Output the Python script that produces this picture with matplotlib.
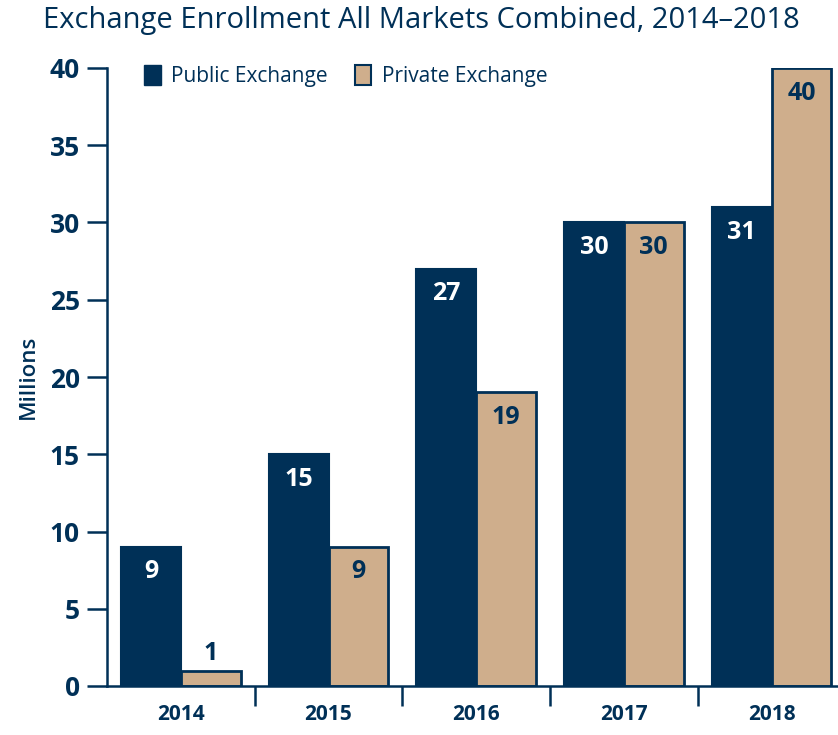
import numpy as np
import matplotlib.pyplot as plt
from matplotlib.patches import Patch

plt.rcParams['font.family'] = ['Open Sans', 'DejaVu Sans']

years = ["2014", "2015", "2016", "2017", "2018"]
public = [9, 15, 27, 30, 31]
private = [1, 9, 19, 30, 40]

navy = "#003057"
tan = "#CFAE8C"

fig = plt.figure(figsize=(8.38, 7.35), dpi=100)
ax = fig.add_axes([107 / 838, 49 / 735, 731 / 838, 618 / 735])

x = np.arange(len(years))
w = 0.405
b1 = ax.bar(x - w / 2, public, w, color=navy, edgecolor=navy, linewidth=1.5, label="Public Exchange")
b2 = ax.bar(x + w / 2, private, w, color=tan, edgecolor=navy, linewidth=2, label="Private Exchange")

for bars, vals, col in [(b1, public, "white"), (b2, private, navy)]:
    for r, v in zip(bars, vals):
        cx = r.get_x() + r.get_width() / 2
        if v < 3:
            ax.annotate(str(v), (cx, v), xytext=(0, 3), textcoords="offset points",
                        ha="center", va="bottom", color=navy, fontsize=18, fontweight="bold")
        else:
            ax.annotate(str(v), (cx, v), xytext=(0, -9), textcoords="offset points",
                        ha="center", va="top", color=col, fontsize=18, fontweight="bold")

ax.set_xlim(-0.5, 4.45)
ax.set_ylim(0, 40)
ax.set_yticks(range(0, 41, 5))
ax.set_xticks(x)
ax.set_xticklabels(years)
ax.set_xticks(x[:-1] + 0.5, minor=True)

for s in ["top", "right"]:
    ax.spines[s].set_visible(False)
for s in ["left", "bottom"]:
    ax.spines[s].set_color(navy)
    ax.spines[s].set_linewidth(1.8)

ax.tick_params(axis="y", length=14.5, width=1.8, color=navy, labelcolor=navy, labelsize=19, pad=5)
ax.tick_params(axis="x", which="major", length=0, labelcolor=navy, labelsize=15, pad=13)
ax.tick_params(axis="x", which="minor", length=14.5, width=1.8, color=navy)
for t in ax.get_yticklabels() + ax.get_xticklabels():
    t.set_fontweight("bold")

ax.set_ylabel("Millions", color=navy, fontsize=16, fontweight="semibold", labelpad=8)

handles = [Patch(facecolor=navy, edgecolor=navy), Patch(facecolor=tan, edgecolor=navy, linewidth=1.5)]
ax.legend(handles, ["Public Exchange", "Private Exchange"], loc="upper left", ncol=2,
          bbox_to_anchor=(0.025, 1.035), frameon=False, fontsize=15, labelcolor=navy,
          handlelength=0.8, handleheight=1.1, handletextpad=0.5, columnspacing=1.3)

fig.text(43 / 838, 1 - 6 / 735, "Exchange Enrollment All Markets Combined, 2014\u20132018",
         ha="left", va="top", color=navy, fontsize=21)

fig.savefig("out.png", dpi=100)
